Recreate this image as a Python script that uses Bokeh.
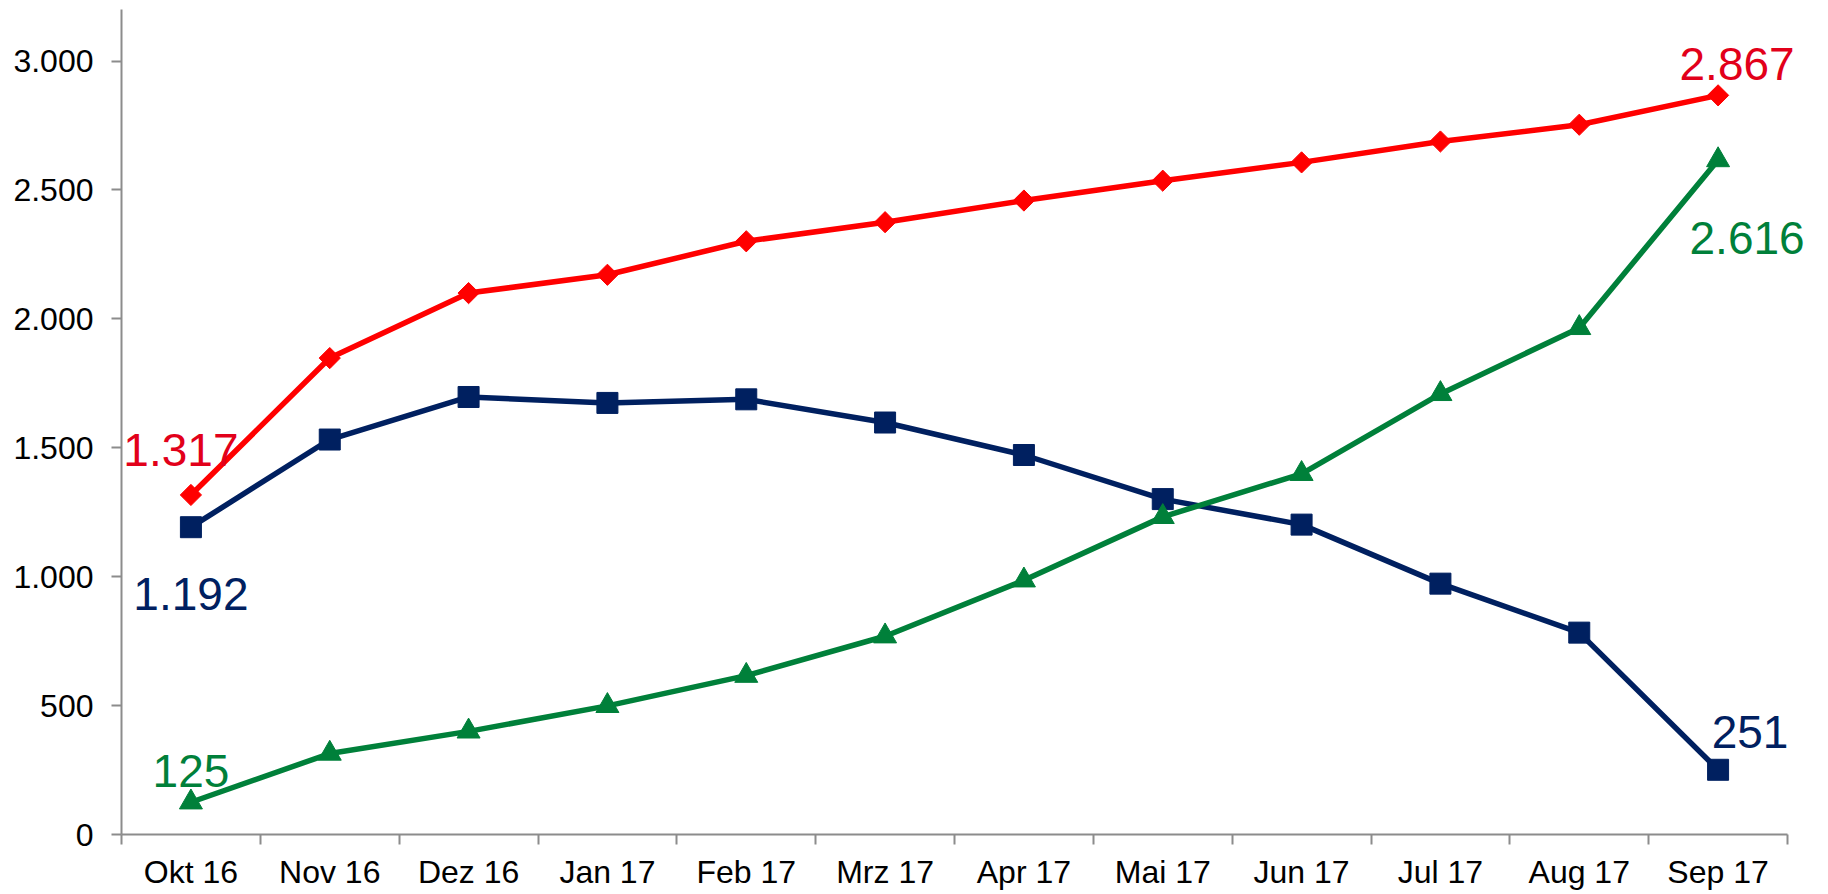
from bokeh.plotting import figure
from bokeh.models import Range1d, FixedTicker, Label
from bokeh.embed import file_html
from bokeh.resources import INLINE
import math

# ---- data ----
months = ["Okt 16", "Nov 16", "Dez 16", "Jan 17", "Feb 17", "Mrz 17",
          "Apr 17", "Mai 17", "Jun 17", "Jul 17", "Aug 17", "Sep 17"]
series_red = [1317, 1848, 2100, 2171, 2301, 2375, 2459, 2536, 2607, 2688, 2753, 2867]
series_navy = [1192, 1532, 1697, 1674, 1688, 1598, 1472, 1301, 1202, 973, 783, 251]
series_green = [125, 314, 400, 499, 616, 769, 986, 1232, 1399, 1709, 1965, 2616]
y_ticks = [0, 500, 1000, 1500, 2000, 2500, 3000]
y_tick_labels = ["0", "500", "1.000", "1.500", "2.000", "2.500", "3.000"]

FONT = "Liberation Sans"
AXIS_GREY = "#8c8c8c"
RED_LINE = "#ff0000"
RED_TEXT = "#e2001a"
NAVY = "#002060"
GREEN = "#00803a"

x = list(range(len(months)))
n = len(months)

# frame: 121 .. 1826 px, category axis occupies 121 .. 1787 px
FRAME_W = 1826 - 121
AXIS_W = 1787 - 121
x_end = -0.5 + n * FRAME_W / AXIS_W

p = figure(width=1826, height=892, output_backend="svg", toolbar_location=None,
           x_range=Range1d(-0.5, x_end), y_range=Range1d(0, 3200),
           min_border_left=121, min_border_right=0, min_border_top=9, min_border_bottom=55)
p.outline_line_color = None
p.xgrid.visible = False
p.ygrid.visible = False
p.background_fill_color = "white"
p.border_fill_color = "white"

# x axis: labels at category centres, ticks at boundaries
xa = p.xaxis[0]
xa.bounds = (-0.5, n - 0.5)
xa.ticker = FixedTicker(ticks=x, minor_ticks=[i - 0.5 for i in range(n + 1)])
xa.major_label_overrides = {i: m for i, m in enumerate(months)}
xa.major_tick_line_color = None
xa.major_tick_out = 10
xa.major_tick_in = 0
xa.minor_tick_line_color = AXIS_GREY
xa.minor_tick_line_width = 2
xa.minor_tick_out = 10
xa.minor_tick_in = 0
xa.axis_line_color = AXIS_GREY
xa.axis_line_width = 2
xa.major_label_text_font = FONT
xa.major_label_text_font_size = "32px"
xa.major_label_text_color = "black"
xa.major_label_standoff = 9

ya = p.yaxis[0]
ya.ticker = FixedTicker(ticks=y_ticks)
ya.major_label_overrides = {t: l for t, l in zip(y_ticks, y_tick_labels)}
ya.major_tick_line_color = AXIS_GREY
ya.major_tick_line_width = 2
ya.major_tick_out = 10
ya.major_tick_in = 0
ya.minor_tick_line_color = None
ya.axis_line_color = AXIS_GREY
ya.axis_line_width = 2
ya.major_label_text_font = FONT
ya.major_label_text_font_size = "32px"
ya.major_label_text_color = "black"
ya.major_label_standoff = 18

LW = 5.5
# navy
p.line(x, series_navy, line_color=NAVY, line_width=LW)
p.scatter(x, series_navy, marker="square", size=21, fill_color=NAVY, line_color=NAVY)
# green
p.line(x, series_green, line_color=GREEN, line_width=LW)
p.scatter(x, series_green, marker="triangle", size=23, fill_color=GREEN, line_color=GREEN)
# red
p.line(x, series_red, line_color=RED_LINE, line_width=LW)
p.scatter(x, series_red, marker="square", angle=math.pi / 4, size=15,
          fill_color=RED_LINE, line_color=RED_LINE)


def fmt(v):
    return f"{v:,}".replace(",", ".")


def label(i, series, color, dx, dy):
    # dx, dy: screen offsets (dy positive = down)
    p.add_layout(Label(x=x[i], y=series[i], text=fmt(series[i]), text_color=color,
                       text_font=FONT, text_font_size="46px", text_align="center",
                       text_baseline="alphabetic", x_offset=dx, y_offset=-dy,
                       level="overlay"))


label(0, series_red, RED_TEXT, -10, -45)
label(0, series_navy, NAVY, 0, 67)
label(0, series_green, GREEN, 0, -31)
label(-1, series_red, RED_TEXT, 19, -31)
label(-1, series_green, GREEN, 29, 78)
label(-1, series_navy, NAVY, 32, -38)

open("out.html", "w").write(file_html(p, INLINE))
